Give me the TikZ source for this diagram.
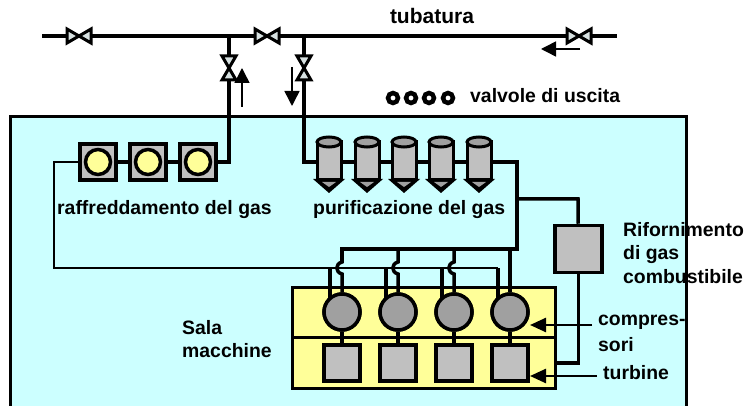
\documentclass[tikz,border=0pt]{standalone}
\usepackage{fontspec}
\setmainfont{Liberation Sans}
\usepackage{xcolor}
\usetikzlibrary{arrows.meta}
\definecolor{room}{RGB}{204, 255, 255}
\definecolor{paleyellow}{RGB}{255, 255, 153}
\definecolor{unit}{RGB}{192, 192, 192}
\definecolor{rotor}{RGB}{160, 160, 160}
\definecolor{seat}{RGB}{215, 225, 225}
\tikzset{
  pipe/.style={line width=3.5pt, line join=miter},
  thinpipe/.style={line width=2pt},
  flow/.style={line width=1.5pt, -{Triangle[length=15pt, width=15pt]}},
  pointer/.style={line width=2.5pt, -{Triangle[length=16pt, width=14pt]}},
  label/.style={font=\fontsize{19.4}{22}\selectfont\bfseries, inner sep=0pt, anchor=west},
  squarebox/.style={draw, line width=3.5pt, fill=unit, minimum size=36pt, inner sep=0pt},
  coolcircle/.style={draw, circle, line width=3.5pt, fill=paleyellow, minimum size=25pt, inner sep=0pt},
  rotorcircle/.style={draw, circle, line width=3.5pt, fill=rotor, minimum size=36pt, inner sep=0pt},
  outlet/.style={draw, circle, line width=4.5pt, fill=white, minimum size=10pt, inner sep=0pt},
  valve/.pic={
    \draw[line width=3pt, fill=seat, line join=miter] (-12,-7) -- (0,0) -- (-12,7) -- cycle;
    \draw[line width=3pt, fill=seat, line join=miter] (12,-7) -- (0,0) -- (12,7) -- cycle;
  },
  filter/.pic={
    \draw[line width=3pt, fill=unit] (-12,0) -- (-12,38) -- (12,38) -- (12,0) -- cycle;
    \draw[line width=3pt, fill=rotor] (0,0) ellipse (12 and 5);
    \fill (-16,37) -- (16,37) -- (0,51) -- cycle;
    \fill[rotor] (-7,40) -- (7,40) -- (0,45) -- cycle;
  }
}
\begin{document}
\begin{tikzpicture}[x=1pt, y=-1pt]
\useasboundingbox (0,0) rectangle (747,406);
\clip (0,0) rectangle (747,406);

% Room
\draw[line width=3pt, fill=room] (10,117) rectangle (686,430);

% Engine room
\node[draw, line width=3pt, fill=paleyellow, minimum width=263pt, minimum height=50pt, inner sep=0pt] (upper) at (423.5,312) {};
\node[draw, line width=3pt, fill=paleyellow, minimum width=263pt, minimum height=51pt, inner sep=0pt] (lower) at (423.5,362.5) {};

% Pipe corners
\coordinate (mainL) at (42,36);
\coordinate (mainR) at (617,36);
\coordinate (teeA) at (229,36);
\coordinate (teeB) at (304,36);
\coordinate (coolL) at (54,162);
\coordinate (coolR) at (229,162);
\coordinate (purL) at (304,162);
\coordinate (purR) at (517,162);
\coordinate (feed) at (517,199);
\coordinate (feedTop) at (578,199);
\coordinate (manifold) at (517,249);
\coordinate (returnL) at (54,268);
\coordinate (returnR) at (498,268);

% Units
\node[squarebox] (cool1) at (98,162) {};
\node[squarebox] (cool2) at (148,162) {};
\node[squarebox] (cool3) at (198,162) {};
\node[squarebox, minimum size=47pt] (fuel) at (578.5,249) {};
\foreach \i/\x in {1/342,2/398,3/454,4/510} {
  \node[rotorcircle] (comp\i) at (\x,312) {};
  \node[squarebox] (turb\i) at (\x,363) {};
}

% Pipes
\draw[pipe] (mainL) -- (mainR);
\draw[pipe] (teeA) -- (coolR) -- (cool3);
\draw[pipe] (teeB) -- (purL) -- (purR) -- (manifold) -| (comp1.north |- 0,249) -- ++(0,13);
\draw[pipe] (feed) -- (feedTop) -- (fuel);
\draw[pipe] (cool3) -- (cool2);
\draw[pipe] (cool2) -- (cool1);
\draw[thinpipe] (cool1) -- (coolL) -- (returnL) -- (returnR);
\draw[pipe] (returnR) -- (comp4.north -| returnR) -- ++(0,10);
\draw[pipe] (manifold -| comp4) -- (comp4);
\draw[pipe] (fuel) -- (fuel |- turb4) -- (lower.east |- turb4);
\foreach \i/\x in {1/342,2/398,3/454} {
  \draw[pipe] (\x-12,268) -- (\x-12,300);
  \draw[pipe] (\x,249) -- (\x,262) .. controls (\x-7,264) and (\x-7,272) .. (\x,274) -- (comp\i);
}
\foreach \i in {1,2,3,4} {
  \draw[pipe] (comp\i) -- (turb\i);
  \node[rotorcircle] at (comp\i) {};
  \node[squarebox] at (turb\i) {};
}
\node[coolcircle] (yellow1) at (cool1) {};
\node[coolcircle] (yellow2) at (cool2) {};
\node[coolcircle] (yellow3) at (cool3) {};

% Valves
\pic at (79,36) {valve};
\pic at (267,36) {valve};
\pic at (579,36) {valve};
\pic[rotate=90] at (229,68) {valve};
\pic[rotate=90] at (304,68) {valve};

% Filters
\foreach \x in {329,367,404,441,479} {
  \pic at (\x,142) {filter};
}

% Outlet valves
\foreach \i/\x in {1/393,2/411,3/429,4/448} {
  \node[outlet] (out\i) at (\x,98) {};
}

% Flow arrows
\coordinate (upS) at (242,107);
\coordinate (upE) at (242,68);
\coordinate (downS) at (292,67);
\coordinate (downE) at (292,106);
\coordinate (leftS) at (580,49);
\coordinate (leftE) at (541,49);
\draw[flow] (upS) -- (upE);
\draw[flow] (downS) -- (downE);
\draw[flow] (leftS) -- (leftE);

% Labels
\node[label, anchor=center, font=\fontsize{21}{24}\selectfont\bfseries] (pipeline) at (432,16) {tubatura};
\node[label] (outlets) at (470,96) {valvole di uscita};
\node[label] (cooling) at (57,210) {raffreddamento del gas};
\node[label] (cleaning) at (313,210) {purificazione del gas};
\node[label] (fuelA) at (623,230) {Rifornimento};
\node[label] (fuelB) at (623,255) {di gas};
\node[label] (fuelC) at (623,277) {combustibile};
\node[label] (salaA) at (182,328) {Sala};
\node[label] (salaB) at (182,351) {macchine};
\node[label] (compA) at (598,322) {compres-};
\node[label] (compB) at (598,345) {sori};
\node[label] (turbine) at (603,373) {turbine};

% Pointers
\coordinate (compTip) at (530,325);
\coordinate (turbTip) at (530,376);
\draw[pointer] (compA.west |- compTip) ++(-6,0) -- (compTip);
\draw[pointer] (turbine.west |- turbTip) ++(-6,0) -- (turbTip);
\end{tikzpicture}
\end{document}
